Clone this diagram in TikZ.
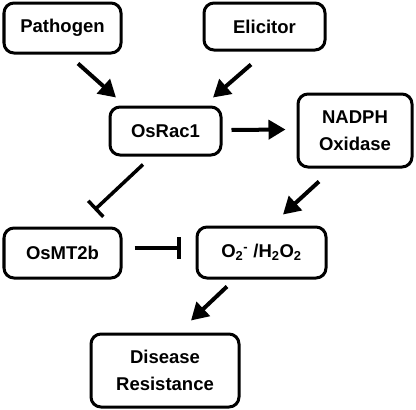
\documentclass[tikz,border=0pt]{standalone}
\usepackage{fontspec}
\setmainfont{Liberation Sans}
\usetikzlibrary{arrows.meta}
\begin{document}
\begin{tikzpicture}[x=1pt,y=-1pt,
  box/.style={draw, line width=3pt, rounded corners=10pt, align=center,
    font=\fontsize{18.5}{27}\selectfont\bfseries, inner sep=0pt},
  act/.style={line width=4pt, -{Triangle[length=17pt,width=19pt]}},
  inh/.style={line width=3.5pt, -{Bar[width=22pt]}}]
\useasboundingbox (0,0) rectangle (416,410);
\node[box, minimum width=117pt, minimum height=50pt] (path) at (62.5,28) {Pathogen};
\node[box, minimum width=121pt, minimum height=47pt] (elic) at (264.5,26.5) {Elicitor};
\node[box, minimum width=111pt, minimum height=48pt] (rac) at (165.5,131) {OsRac1};
\node[box, minimum width=114pt, minimum height=73pt] (nadph) at (355,130.5) {NADPH\\Oxidase};
\node[box, minimum width=117pt, minimum height=50pt] (mt) at (62.5,253) {OsMT2b};
\node[box, minimum width=129pt, minimum height=51pt] (ros) at (261.5,252.5) {O\textsubscript{2}\textsuperscript{-} /H\textsubscript{2}O\textsubscript{2}};
\node[box, minimum width=148pt, minimum height=73pt] (dis) at (165,370.5) {Disease\\Resistance};
\draw[act] ([shift={(15.5,9)}]path.south) -- ([shift={(-49.5,-8)}]rac.north);
\draw[act] ([shift={(-13.5,13)}]elic.south) -- ([shift={(47.5,-8)}]rac.north);
\draw[act] ([shift={(9,-1)}]rac.east) -- ([shift={(-11,-1)}]nadph.west);
\draw[inh] ([shift={(-22.5,8)}]rac.south) -- ([shift={(32,-16.5)}]mt.north);
\draw[act] ([shift={(-36,13)}]nadph.south) -- ([shift={(21.5,-11)}]ros.north);
\draw[inh] ([shift={(12,-5)}]mt.east) -- ([shift={(-15,-4.5)}]ros.west);
\draw[act] ([shift={(-34.5,7)}]ros.south) -- ([shift={(26,-12)}]dis.north);
\end{tikzpicture}
\end{document}
